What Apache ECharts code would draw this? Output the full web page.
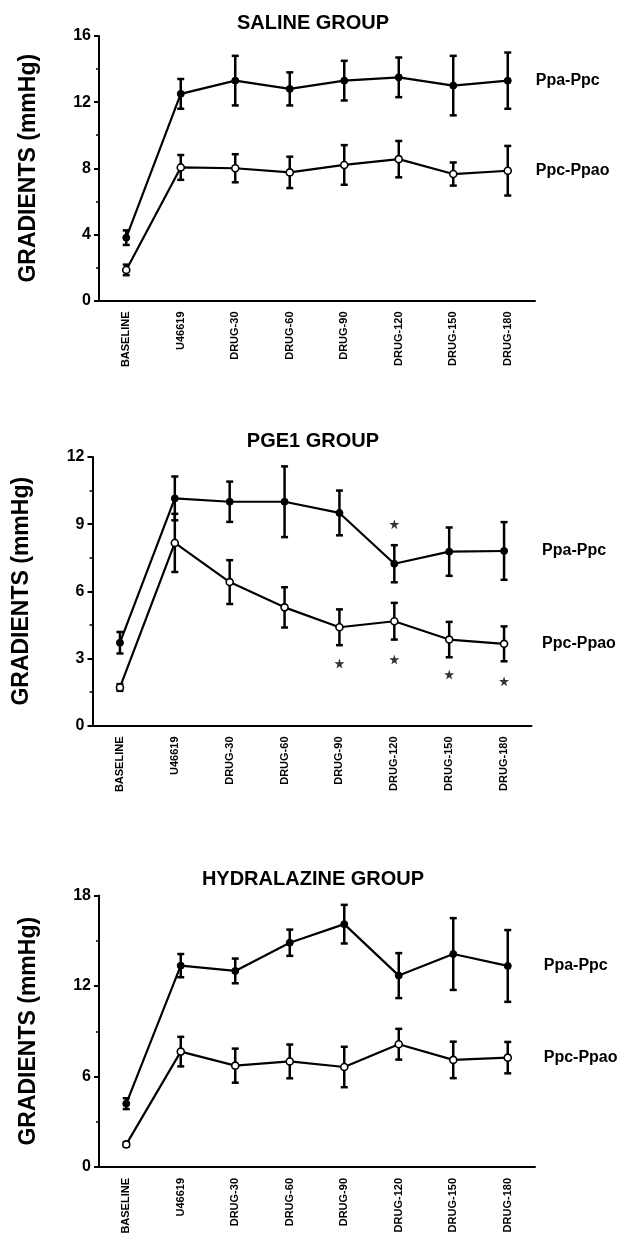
<!DOCTYPE html>
<html>
<head>
<meta charset="utf-8">
<script src="https://cdn.jsdelivr.net/npm/echarts@6/dist/echarts.min.js"></script>
<style>
  html, body { margin: 0; padding: 0; background: #fff; }
  #chart { width: 626px; height: 1247px; }
</style>
</head>
<body>
<div id="chart"></div>
<script>
var categories = ["BASELINE", "U46619", "DRUG-30", "DRUG-60", "DRUG-90", "DRUG-120", "DRUG-150", "DRUG-180"];

// saline group
var salinePaPc = [3.8, 12.5, 13.3, 12.8, 13.3, 13.5, 13.0, 13.3];
var salinePaPcErr = [0.44, 0.9, 1.5, 1.0, 1.2, 1.2, 1.8, 1.7];
var salinePcPao = [1.85, 8.05, 8.0, 7.75, 8.2, 8.55, 7.65, 7.85];
var salinePcPaoErr = [0.32, 0.75, 0.85, 0.95, 1.2, 1.1, 0.7, 1.5];

// PGE1 group
var pgePaPc = [3.7, 10.15, 10.0, 10.0, 9.5, 7.23, 7.77, 7.8];
var pgePaPcErr = [0.48, 0.98, 0.9, 1.58, 1.0, 0.83, 1.08, 1.29];
var pgePcPao = [1.7, 8.16, 6.41, 5.28, 4.39, 4.66, 3.84, 3.65];
var pgePcPaoErr = [0.15, 1.3, 0.98, 0.9, 0.8, 0.82, 0.79, 0.78];
var pgeStarsUpper = [null, null, null, null, null, 9.0, null, null];
var pgeStarsLower = [null, null, null, null, 2.77, 2.95, 2.28, 1.98];

// hydralazine group
var hydPaPc = [4.2, 13.35, 13.0, 14.87, 16.1, 12.69, 14.12, 13.33];
var hydPaPcErr = [0.36, 0.77, 0.82, 0.87, 1.28, 1.49, 2.38, 2.38];
var hydPcPao = [1.5, 7.65, 6.72, 7.0, 6.63, 8.14, 7.1, 7.25];
var hydPcPaoErr = [0.15, 0.98, 1.13, 1.12, 1.34, 1.02, 1.21, 1.04];

var panels = [
  { title: "SALINE GROUP", paPc: salinePaPc, paPcErr: salinePaPcErr, pcPao: salinePcPao, pcPaoErr: salinePcPaoErr,
    max: 16, interval: 4, grid: { left: 99, top: 36, width: 436, height: 264.5 }, titleTop: 13, labelGap: 28 },
  { title: "PGE1 GROUP", paPc: pgePaPc, paPcErr: pgePaPcErr, pcPao: pgePcPao, pcPaoErr: pgePcPaoErr,
    max: 12, interval: 3, grid: { left: 92.5, top: 457, width: 439, height: 268.5 }, titleTop: 431, labelGap: 38,
    stars: [pgeStarsUpper, pgeStarsLower] },
  { title: "HYDRALAZINE GROUP", paPc: hydPaPc, paPcErr: hydPaPcErr, pcPao: hydPcPao, pcPaoErr: hydPcPaoErr,
    max: 18, interval: 6, grid: { left: 99, top: 895.5, width: 436, height: 271.5 }, titleTop: 869, labelGap: 36 }
];

var FONT = "'Liberation Sans', Arial, Helvetica, sans-serif";
var starPath = "path://M50,0 L61,35 L98,35 L68,57 L79,91 L50,70 L21,91 L32,57 L2,35 L39,35 Z";

function errData(vals, errs) {
  return vals.map(function (v, i) { return [i, v - errs[i], v + errs[i]]; });
}

function renderErr(params, api) {
  var x = api.value(0);
  var lo = api.coord([x, api.value(1)]);
  var hi = api.coord([x, api.value(2)]);
  var w = 3.5;
  var st = { stroke: "#000", lineWidth: 2.5 };
  return {
    type: "group",
    children: [
      { type: "line", shape: { x1: lo[0], y1: lo[1], x2: hi[0], y2: hi[1] }, style: st },
      { type: "line", shape: { x1: lo[0] - w, y1: lo[1], x2: lo[0] + w, y2: lo[1] }, style: st },
      { type: "line", shape: { x1: hi[0] - w, y1: hi[1], x2: hi[0] + w, y2: hi[1] }, style: st }
    ]
  };
}

var option = {
  animation: false,
  backgroundColor: "#fff",
  title: [],
  grid: [],
  xAxis: [],
  yAxis: [],
  series: []
};

panels.forEach(function (p, k) {
  option.title.push({
    text: p.title,
    left: "center",
    top: p.titleTop,
    padding: 0,
    textStyle: { fontFamily: FONT, fontSize: 20, fontWeight: "bold", color: "#000" }
  });
  option.grid.push(p.grid);
  option.xAxis.push({
    type: "category",
    gridIndex: k,
    data: categories,
    boundaryGap: true,
    axisLine: { lineStyle: { color: "#000", width: 2 } },
    axisTick: { alignWithLabel: true, length: 5, lineStyle: { color: "#000", width: 2 } },
    axisLabel: { rotate: 90, interval: 0, margin: 11, color: "#000", fontFamily: FONT, fontSize: 11, fontWeight: "bold" },
    splitLine: { show: false }
  });
  option.yAxis.push({
    type: "value",
    gridIndex: k,
    min: 0,
    max: p.max,
    interval: p.interval,
    name: "GRADIENTS (mmHg)",
    nameLocation: "middle",
    nameRotate: 90,
    nameGap: 59,
    nameTextStyle: { fontFamily: FONT, fontSize: 23, fontWeight: "bold", color: "#000" },
    axisLine: { show: true, lineStyle: { color: "#000", width: 2 } },
    axisTick: { show: true, length: 5, lineStyle: { color: "#000", width: 2 } },
    minorTick: { show: true, splitNumber: 2, length: 3, lineStyle: { color: "#000", width: 1.5 } },
    axisLabel: { margin: 8, color: "#000", fontFamily: FONT, fontSize: 16, fontWeight: "bold" },
    splitLine: { show: false }
  });

  option.series.push({
    type: "custom", xAxisIndex: k, yAxisIndex: k, z: 1,
    renderItem: renderErr, encode: { x: 0, y: [1, 2] },
    data: errData(p.paPc, p.paPcErr)
  });
  option.series.push({
    type: "custom", xAxisIndex: k, yAxisIndex: k, z: 1,
    renderItem: renderErr, encode: { x: 0, y: [1, 2] },
    data: errData(p.pcPao, p.pcPaoErr)
  });
  option.series.push({
    name: "Ppa-Ppc", type: "line", xAxisIndex: k, yAxisIndex: k, z: 3,
    data: p.paPc,
    symbol: "circle", symbolSize: 7, showAllSymbol: true,
    itemStyle: { color: "#000", borderColor: "#000", borderWidth: 1 },
    lineStyle: { color: "#000", width: 2.2 },
    endLabel: { show: true, formatter: "{a}", distance: p.labelGap, color: "#000", fontFamily: FONT, fontSize: 16, fontWeight: "bold" }
  });
  option.series.push({
    name: "Ppc-Ppao", type: "line", xAxisIndex: k, yAxisIndex: k, z: 3,
    data: p.pcPao,
    symbol: "circle", symbolSize: 7, showAllSymbol: true,
    itemStyle: { color: "#fff", borderColor: "#000", borderWidth: 1.6 },
    lineStyle: { color: "#000", width: 2.2 },
    endLabel: { show: true, formatter: "{a}", distance: p.labelGap, color: "#000", fontFamily: FONT, fontSize: 16, fontWeight: "bold" }
  });

  if (p.stars) {
    p.stars.forEach(function (arr) {
      var pts = [];
      arr.forEach(function (v, i) { if (v !== null) pts.push([i, v]); });
      option.series.push({
        type: "scatter", xAxisIndex: k, yAxisIndex: k, z: 4,
        symbol: starPath, symbolSize: 10,
        itemStyle: { color: "#000" },
        data: pts
      });
    });
  }
});

var chart = echarts.init(document.getElementById("chart"), null, { renderer: "canvas" });
chart.setOption(option);
</script>
</body>
</html>
